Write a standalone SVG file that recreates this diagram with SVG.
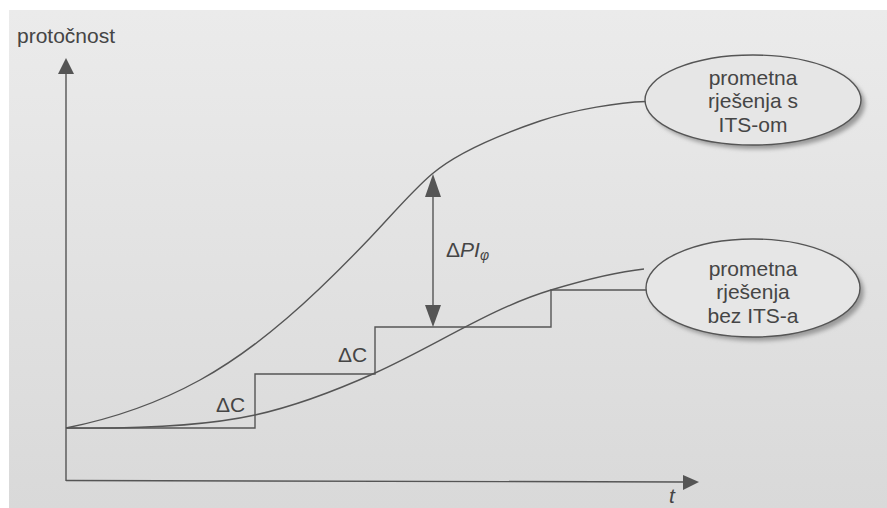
<svg xmlns="http://www.w3.org/2000/svg" width="887" height="508" viewBox="0 0 887 508">
  <defs>
    <linearGradient id="paper" x1="0" y1="0" x2="0" y2="1">
      <stop offset="0" stop-color="#ebebeb"/>
      <stop offset="1" stop-color="#d9d9d9"/>
    </linearGradient>
    <filter id="blur" x="-10%" y="-10%" width="120%" height="130%">
      <feGaussianBlur stdDeviation="2"/>
    </filter>
    <style>
      .ln { fill: none; stroke: #555; stroke-width: 1.4; }
      .ah { fill: #555; stroke: none; }
      .txt { font-family: "Liberation Sans", Arial, sans-serif; font-size: 21px; fill: #454545; }
      .ctr { text-anchor: middle; }
      .oval { fill: #e6e6e6; stroke: #555; stroke-width: 1.4; }
      .shadow { fill: #9a9a9a; filter: url(#blur); }
    </style>
  </defs>

  <rect x="0" y="0" width="887" height="508" fill="#ffffff"/>
  <rect x="9" y="10" width="878" height="498" fill="url(#paper)"/>

  <g id="axes">
    <line class="ln" x1="66" y1="481" x2="66" y2="72"/>
    <polygon class="ah" points="66,58 58,74 74,74"/>
    <line class="ln" x1="66" y1="480.5" x2="685" y2="482"/>
    <polygon class="ah" points="699,482 683,475 683,490"/>
    <text class="txt" x="17" y="43">protočnost</text>
    <text class="txt" x="669" y="503" font-style="italic" font-size="19">t</text>
  </g>

  <g id="connectors">
    <path id="curve-its" class="ln" d="M66,428 C111,419 155,404.75 200,380 C260,347 315,295.75 370,238 C392,215 411,192 432,174 C460,150 510,131.2 540,121 C575,109.1 620,102.3 646,101.5"/>
    <path id="curve-noits" class="ln" d="M66,428 C140,429 205,426 255,415 C295,406.2 335,391 375,373 C435,346 491,308 551,290 C581,281 620,271.5 644,269"/>
    <path id="steps" class="ln" d="M66,428 H255 V374 H375 V327 H551 V290 H647"/>
    <g id="delta-arrow">
      <line class="ln" x1="433" y1="195" x2="433" y2="307"/>
      <polygon class="ah" points="433,174 425,197 441,197"/>
      <polygon class="ah" points="433,327 425,305 441,305"/>
    </g>
  </g>

  <g id="labels">
    <text class="txt" x="216" y="412">ΔC</text>
    <text class="txt" x="338" y="362">ΔC</text>
    <text class="txt" x="446" y="257" font-size="20">Δ<tspan font-style="italic">PI</tspan><tspan font-style="italic" font-size="14" dy="3">φ</tspan></text>
  </g>

  <g id="node-its">
    <ellipse class="shadow" cx="757" cy="104" rx="108" ry="45"/>
    <ellipse class="oval" cx="753" cy="100" rx="108" ry="45"/>
    <text class="txt ctr" x="753" y="85">prometna</text>
    <text class="txt ctr" x="753" y="108">rješenja s</text>
    <text class="txt ctr" x="753" y="132">ITS-om</text>
  </g>

  <g id="node-noits">
    <ellipse class="shadow" cx="757" cy="292" rx="107" ry="49"/>
    <ellipse class="oval" cx="753" cy="288" rx="107" ry="49"/>
    <text class="txt ctr" x="753" y="276">prometna</text>
    <text class="txt ctr" x="753" y="299">rješenja</text>
    <text class="txt ctr" x="753" y="323">bez ITS-a</text>
  </g>
</svg>
